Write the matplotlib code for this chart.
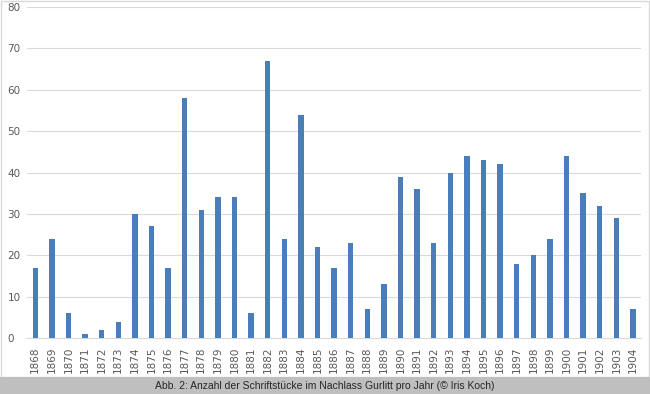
import matplotlib.pyplot as plt
import numpy as np
from matplotlib.patches import Rectangle

years = list(range(1868, 1905))
counts = [17, 24, 6, 1, 2, 4, 30, 27, 17, 58, 31, 34, 34, 6, 67, 24, 54, 22, 17, 23,
          7, 13, 39, 36, 23, 40, 44, 43, 42, 18, 20, 24, 44, 35, 32, 29, 7]
caption = 'Abb. 2: Anzahl der Schriftstücke im Nachlass Gurlitt pro Jahr (© Iris Koch)'

fig = plt.figure(figsize=(6.5, 3.94), dpi=100)
ax = fig.add_axes([0.0415, 0.142, 0.945, 0.840])

x = np.arange(len(years))
ax.bar(x, counts, width=0.33, color='#4a7ebb', zorder=3)
ax.set_xlim(-0.5, len(years) - 0.5)
ax.set_ylim(0, 80)
ax.set_yticks(range(0, 81, 10))
ax.set_xticks(x)
ax.set_xticklabels([str(y) for y in years], rotation=90)
ax.grid(axis='y', color='#d9d9d9', linewidth=0.8, zorder=0)
for s in ['top', 'right', 'left']:
    ax.spines[s].set_visible(False)
ax.spines['bottom'].set_color('#d9d9d9')
ax.tick_params(length=0, colors='#595959', labelsize=7.5, pad=6)
ax.tick_params(axis='y', pad=14)
for lab in ax.get_yticklabels():
    lab.set_horizontalalignment('left')

# frame and caption band
fig.patches.append(Rectangle((0.001, 0.043), 0.997, 0.955, transform=fig.transFigure,
                             fill=False, edgecolor='#d9d9d9', linewidth=1))
fig.patches.append(Rectangle((0, 0), 1, 0.043, transform=fig.transFigure,
                             facecolor='#bfbfbf', edgecolor='none'))
fig.text(0.5, 0.021, caption, ha='center', va='center', fontsize=7.5,
         family=['Liberation Sans', 'DejaVu Sans'], color='#262626')

fig.savefig('out.png', dpi=100)
